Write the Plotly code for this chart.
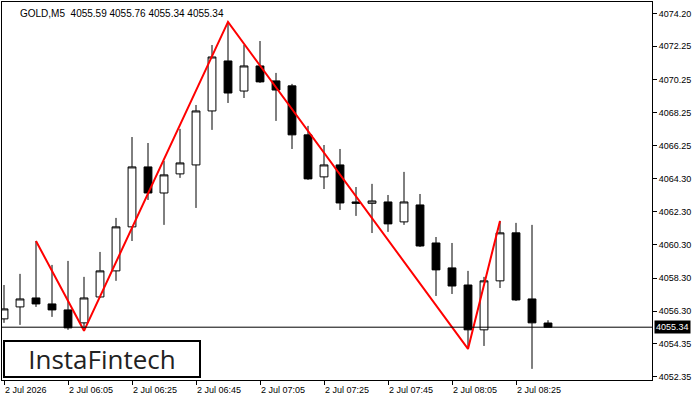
import plotly.graph_objects as go

# ---- data ----
x_index = list(range(35))
opens = [4055.84, 4056.56, 4057.10, 4056.74, 4056.38, 4055.60, 4057.16, 4058.73, 4061.38, 4064.99,
         4063.42, 4064.57, 4065.11, 4068.36, 4071.37, 4069.56, 4071.07, 4070.17, 4069.87, 4066.92,
         4064.39, 4065.11, 4062.88, 4062.80, 4062.88, 4061.68, 4062.70, 4060.41, 4058.91, 4057.88,
         4055.18, 4058.13, 4061.02, 4057.04, 4055.59]
highs = [4057.88, 4058.55, 4060.53, 4059.09, 4059.33, 4058.37, 4059.87, 4061.92, 4066.79, 4066.43,
         4065.35, 4067.28, 4068.72, 4072.33, 4073.72, 4072.33, 4072.57, 4070.65, 4069.99, 4067.46,
         4066.31, 4066.07, 4063.78, 4063.97, 4063.30, 4064.69, 4063.36, 4060.77, 4060.41, 4058.73,
         4058.37, 4061.74, 4061.62, 4061.50, 4055.76]
lows = [4055.60, 4055.48, 4056.56, 4055.96, 4055.18, 4055.12, 4057.10, 4058.13, 4060.53, 4063.00,
        4061.50, 4064.33, 4062.52, 4067.22, 4068.84, 4069.14, 4070.05, 4067.76, 4066.07, 4064.21,
        4063.66, 4062.40, 4062.04, 4061.01, 4061.08, 4061.50, 4060.17, 4057.22, 4057.34, 4054.03,
        4054.21, 4057.70, 4056.92, 4052.83, 4055.34]
closes = [4056.44, 4057.04, 4056.74, 4056.38, 4055.30, 4057.10, 4058.73, 4061.38, 4064.99, 4063.42,
          4064.51, 4065.23, 4068.36, 4071.61, 4069.44, 4071.07, 4070.11, 4069.62, 4066.92, 4064.27,
          4065.11, 4062.82, 4062.80, 4062.94, 4061.56, 4062.88, 4060.23, 4058.79, 4057.82, 4055.18,
          4058.13, 4061.02, 4056.98, 4055.60, 4055.34]

x_tick_index = [0, 4, 8, 12, 16, 20, 24, 28, 32]
x_tick_labels = ["2 Jul 2026", "2 Jul 06:05", "2 Jul 06:25", "2 Jul 06:45", "2 Jul 07:05",
                 "2 Jul 07:25", "2 Jul 07:45", "2 Jul 08:05", "2 Jul 08:25"]
y_tick_values = [4074.20, 4072.25, 4070.25, 4068.25, 4066.25, 4064.30, 4062.30,
                 4060.30, 4058.30, 4056.30, 4054.35, 4052.35]
y_tick_labels = ["%.2f" % v for v in y_tick_values]

pattern_index = [2, 5, 14, 29, 31]
pattern_kind = ["high", "low", "high", "low", "high"]

symbol = "GOLD,M5"
logo_text = "InstaFintech"

# ---- figure ----
pattern_y = [highs[i] if k == "high" else lows[i] for i, k in zip(pattern_index, pattern_kind)]
last_close = closes[-1]

fig = go.Figure()
fig.add_trace(go.Candlestick(
    x=x_index, open=opens, high=highs, low=lows, close=closes,
    increasing=dict(line=dict(color="black", width=1), fillcolor="white"),
    decreasing=dict(line=dict(color="black", width=1), fillcolor="black"),
    whiskerwidth=0, hoverinfo="skip", showlegend=False,
))
fig.add_trace(go.Scatter(
    x=pattern_index, y=pattern_y, mode="lines",
    line=dict(color="#ff0000", width=2), hoverinfo="skip", showlegend=False,
))

fig.add_shape(type="line", xref="paper", x0=0, x1=1, yref="y", y0=last_close, y1=last_close,
              line=dict(color="black", width=1))

axis_font = dict(family="Liberation Sans, Arial, sans-serif", size=9, color="black")

fig.update_layout(
    width=700, height=400,
    margin=dict(l=2, r=48, t=2, b=20),
    paper_bgcolor="white", plot_bgcolor="white",
    boxgap=0.3,
    xaxis=dict(
        range=[-0.125, 40.5], rangeslider=dict(visible=False),
        showgrid=False, zeroline=False,
        showline=True, linecolor="black", linewidth=1, mirror=True,
        tickmode="array", tickvals=x_tick_index, ticktext=["" for _ in x_tick_index],
        ticks="outside", ticklen=4, tickcolor="black", showticklabels=False,
    ),
    yaxis=dict(
        range=[4052.16, 4074.92], side="right",
        showgrid=False, zeroline=False,
        showline=True, linecolor="black", linewidth=1, mirror=True,
        tickmode="array", tickvals=y_tick_values, ticktext=y_tick_labels,
        ticks="outside", ticklen=4, tickcolor="black", tickfont=axis_font,
    ),
)

annotations = []
for xi, lab in zip(x_tick_index, x_tick_labels):
    annotations.append(dict(x=xi, xref="x", y=0, yref="paper", yshift=-3,
                            text=lab, showarrow=False, xanchor="left", yanchor="top",
                            xshift=-1, font=axis_font))
header = "%s  %.2f %.2f %.2f %.2f" % (symbol, opens[-1], highs[-1], lows[-1], closes[-1])
annotations.append(dict(x=0, xref="paper", y=1, yref="paper",
                        text=header, showarrow=False, xanchor="left", yanchor="top",
                        xshift=16, yshift=-4,
                        font=dict(family="Liberation Sans, Arial, sans-serif", size=10, color="black")))
annotations.append(dict(x=1, xref="paper", y=last_close, yref="y",
                        text="%.2f" % last_close, showarrow=False, xanchor="left", yanchor="middle",
                        xshift=2, bgcolor="black", borderpad=1,
                        font=dict(family="Liberation Sans, Arial, sans-serif", size=9, color="white")))
annotations.append(dict(x=0, xref="paper", y=0, yref="paper", xanchor="left", yanchor="bottom",
                        xshift=1, yshift=2,
                        text=logo_text, showarrow=False, width=194, height=34,
                        bgcolor="white", bordercolor="black", borderwidth=2, borderpad=0,
                        font=dict(family="Open Sans, sans-serif", size=26, color="#222222")))
fig.update_layout(annotations=annotations)

fig.write_html("out.html")
